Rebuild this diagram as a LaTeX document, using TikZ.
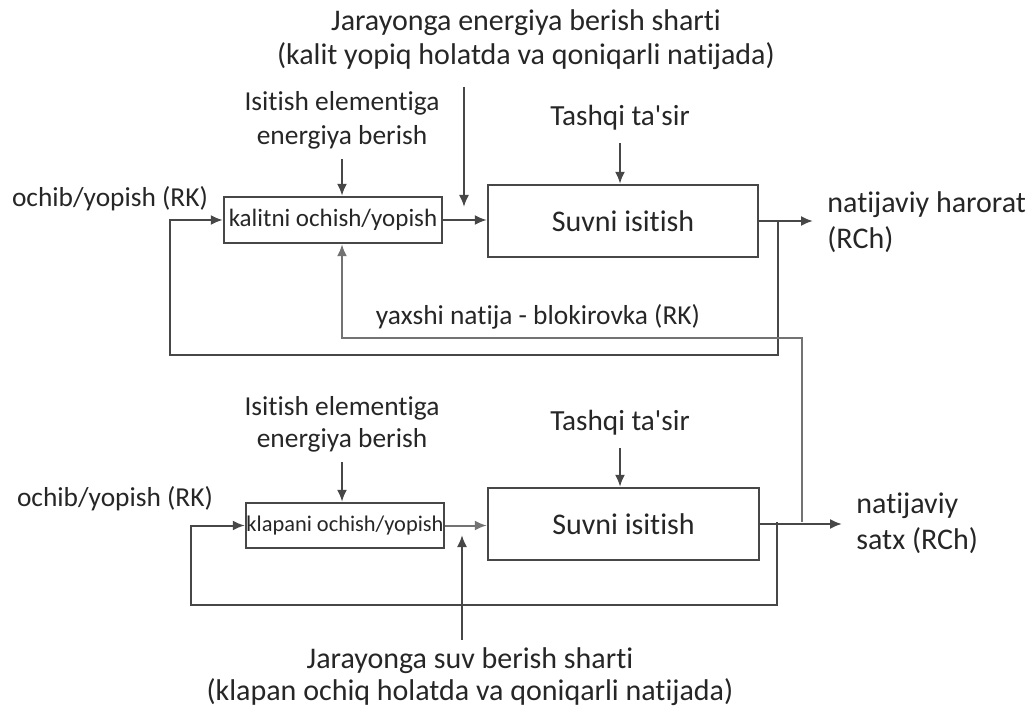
\documentclass[tikz,border=0pt]{standalone}
\usepackage{fontspec}
\setmainfont{Carlito}[Ligatures={NoCommon}]
\usepackage{tikz}
\usetikzlibrary{arrows.meta}
\usetikzlibrary{positioning}

\begin{document}
\begin{tikzpicture}[x=0.5pt,y=-0.5pt]
	\tikzstyle{block}=[draw=black!72,line width=1.2pt,inner sep=0pt,text=black!85]
	\tikzstyle{txt}=[text=black!85,inner sep=0pt,align=center]
	\tikzstyle{flow}=[draw=black!72,line width=1pt,-{Latex[length=6pt,width=5pt]}]
	\tikzstyle{wire}=[draw=black!72,line width=1pt]

	\useasboundingbox (0,0) rectangle (1034,711);

	% upper loop: switch
	\node[txt,font=\fontsize{15}{17}\selectfont] (title1) at (526,40) {Jarayonga energiya berish sharti\\(kalit yopiq holatda va qoniqarli natijada)};
	\node[txt,font=\fontsize{13.7}{17}\selectfont] (isit1) at (342,120) {Isitish elementiga\\energiya berish};
	\node[txt,font=\fontsize{14.6}{17}\selectfont] (tashqi1) at (620,118) {Tashqi ta\textquotesingle sir};
	\node[txt,font=\fontsize{13.7}{17}\selectfont] (ochib1) at (110,199) {ochib/yopish (RK)};
	\node[block,minimum width=109pt,minimum height=23pt,font=\fontsize{12.5}{14}\selectfont] (key) at (333,220) {kalitni ochish/yopish};
	\node[block,minimum width=135pt,minimum height=36pt,font=\fontsize{15}{17}\selectfont] (heat1) at (623,221) {Suvni isitish};
	\node[txt,align=left,anchor=west,font=\fontsize{15}{18}\selectfont] (res1) at (827,222) {natijaviy harorat\\(RCh)};
	\node[txt,font=\fontsize{13.7}{17}\selectfont] (good) at (538,317) {yaxshi natija - blokirovka (RK)};

	\coordinate (t1) at (464,87);
	\coordinate (k1) at (464,207);
	\coordinate (s1) at (778,221);
	\coordinate (f1) at (170,355);
	\coordinate (b1) at (802,522);
	\coordinate (b2) at (342,338);

	\draw[flow,shorten <=5pt] (isit1.south) -- (isit1.south |- key.north);
	\draw[flow] (t1) -- (k1);
	\draw[flow,shorten <=6pt] (tashqi1.south) -- (tashqi1.south |- heat1.north);
	\draw[flow] (key.east) -- (key.east -| heat1.west);
	\draw[flow,shorten >=7pt] (heat1.east) -- (heat1.east -| res1.west);
	\draw[flow] (s1) |- (f1) |- (key.west);
	\draw[flow,draw=black!55] (b1) |- (b2) -- (b2 |- key.south);

	% lower loop: valve
	\node[txt,font=\fontsize{13.7}{16}\selectfont] (isit2) at (342,424) {Isitish elementiga\\energiya berish};
	\node[txt,font=\fontsize{14.6}{17}\selectfont] (tashqi2) at (620,423) {Tashqi ta\textquotesingle sir};
	\node[txt,font=\fontsize{13.7}{17}\selectfont] (ochib2) at (115,499) {ochib/yopish (RK)};
	\node[block,minimum width=99pt,minimum height=22.5pt,font=\fontsize{11.2}{13}\selectfont] (valve) at (345,525.5) {klapani ochish/yopish};
	\node[block,minimum width=135.5pt,minimum height=36pt,font=\fontsize{15}{17}\selectfont] (heat2) at (623.5,524) {Suvni isitish};
	\node[txt,align=left,anchor=west,font=\fontsize{15}{18}\selectfont] (res2) at (856,523) {natijaviy\\satx (RCh)};
	\node[txt,font=\fontsize{15}{16}\selectfont] (title2) at (470,677) {Jarayonga suv berish sharti\\(klapan ochiq holatda va qoniqarli natijada)};

	\coordinate (t2) at (462,640);
	\coordinate (k2) at (462,535);
	\coordinate (s2) at (777,522);
	\coordinate (f2) at (191,605);

	\draw[flow,shorten <=5pt] (isit2.south) -- (isit2.south |- valve.north);
	\draw[flow,shorten <=6pt] (tashqi2.south) -- (tashqi2.south |- heat2.north);
	\draw[flow,draw=black!55] (valve.east) -- (valve.east -| heat2.west);
	\draw[flow] (t2) -- (k2);
	\draw[flow,shorten >=7pt] (heat2.east) -- (heat2.east -| res2.west);
	\draw[flow] (s2) |- (f2) |- (valve.west);
\end{tikzpicture}
\end{document}
